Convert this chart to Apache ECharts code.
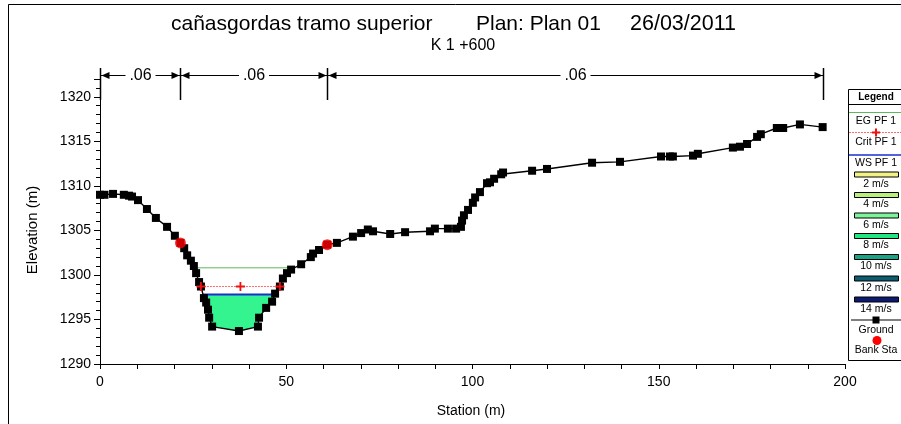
<!DOCTYPE html>
<html>
<head>
<meta charset="utf-8">
<script src="https://cdn.jsdelivr.net/npm/echarts@6/dist/echarts.min.js"></script>
<style>
  html, body { margin: 0; padding: 0; background: #fff; }
  #chart { width: 901px; height: 424px; }
</style>
</head>
<body>
<div id="chart"></div>
<script>
// Cross section K 1+600 — ground survey (station m, elevation m)
const groundStation = [0, 1.2, 3.5, 6.4, 7.8, 8.6, 10.2, 12.6, 15.0, 18.0, 20.1, 21.6, 22.6, 23.4, 24.4, 25.2, 25.8, 26.6, 27.1, 27.9, 28.5, 29.0, 29.3, 30.1, 37.3, 42.4, 42.7, 44.6, 46.2, 47.0, 48.3, 49.1, 50.2, 51.3, 54.0, 56.6, 57.2, 58.8, 61.0, 63.6, 67.9, 70.1, 71.9, 73.3, 77.9, 81.9, 88.6, 89.9, 93.4, 95.6, 96.9, 97.2, 97.7, 98.8, 100.1, 100.7, 102.0, 103.9, 104.7, 105.8, 107.7, 108.2, 116.0, 120.0, 132.1, 139.6, 150.6, 153.0, 153.8, 159.2, 160.5, 169.9, 171.8, 173.7, 176.4, 177.4, 181.7, 183.4, 187.9, 194.0];
const groundElev = [1309.0, 1309.0, 1309.1, 1309.0, 1308.9, 1308.8, 1308.4, 1307.4, 1306.4, 1305.4, 1304.4, 1303.6, 1303.0, 1302.2, 1301.6, 1301.0, 1300.2, 1299.2, 1298.7, 1297.4, 1296.9, 1296.1, 1295.2, 1294.2, 1293.7, 1294.2, 1295.2, 1296.3, 1297.0, 1297.9, 1298.7, 1299.6, 1300.2, 1300.6, 1301.2, 1302.0, 1302.4, 1302.8, 1303.4, 1303.6, 1304.3, 1304.7, 1305.1, 1304.9, 1304.6, 1304.8, 1304.9, 1305.2, 1305.2, 1305.2, 1305.4, 1306.1, 1306.7, 1307.3, 1308.1, 1308.7, 1309.3, 1310.3, 1310.4, 1310.8, 1311.3, 1311.5, 1311.7, 1311.9, 1312.6, 1312.7, 1313.3, 1313.3, 1313.3, 1313.4, 1313.6, 1314.3, 1314.4, 1314.7, 1315.5, 1315.8, 1316.5, 1316.5, 1316.9, 1316.6];

// Bank stations
const bankStation = [21.6, 61.0];
const bankElev = [1303.6, 1303.4];

// Profile PF 1 water levels
const egElev = 1300.8;    // energy grade
const critElev = 1298.7;  // critical depth
const wsElev = 1297.8;    // water surface

// Manning's n by sub-reach
const nBreaks = [0, 21.6, 61.0, 194.0];
const nValues = ['.06', '.06', '.06'];

// Axis ticks
const xTickStep = 50;
const yTickStep = 5;
const yMin = 1290, yMax = 1322;

// Legend entries
const velocityLabels = ['2 m/s', '4 m/s', '6 m/s', '8 m/s', '10 m/s', '12 m/s', '14 m/s'];
const velocityColors = ['#f3f385', '#b8f07a', '#7ff39a', '#1fe883', '#1ba284', '#0c5c70', '#0c1a72'];

const FONT = 'Liberation Sans, Arial, sans-serif';
const ground = groundStation.map((s, i) => [s, groundElev[i]]);

// Stations where the ground crosses a given level around the channel low point
function crossings(level) {
  let lo = 0;
  groundElev.forEach((e, i) => { if (e < groundElev[lo]) lo = i; });
  let left = null, right = null;
  for (let i = lo; i > 0; i--) {
    const [s1, e1] = ground[i - 1], [s2, e2] = ground[i];
    if (e1 >= level && e2 <= level) { left = s1 + (s2 - s1) * (e1 - level) / (e1 - e2); break; }
  }
  for (let i = lo; i < ground.length - 1; i++) {
    const [s1, e1] = ground[i], [s2, e2] = ground[i + 1];
    if (e1 <= level && e2 >= level) { right = s1 + (s2 - s1) * (level - e1) / (e2 - e1); break; }
  }
  return [left, right];
}

const egX = crossings(egElev);
const critX = crossings(critElev);
const wsX = crossings(wsElev);

// Wetted area polygon under the water surface
const wetPolygon = [[wsX[0], wsElev]]
  .concat(ground.filter(p => p[0] > wsX[0] && p[0] < wsX[1]))
  .concat([[wsX[1], wsElev]]);

const plusPath = 'path://M4,0H6V4H10V6H6V10H4V6H0V4H4Z';

// plus sign outline as polygon points around (cx, cy)
function plusPoints(cx, cy, r, w) {
  return [[cx - w, cy - r], [cx + w, cy - r], [cx + w, cy - w], [cx + r, cy - w], [cx + r, cy + w], [cx + w, cy + w],
    [cx + w, cy + r], [cx - w, cy + r], [cx - w, cy + w], [cx - r, cy + w], [cx - r, cy - w], [cx - w, cy - w]];
}

const chart = echarts.init(document.getElementById('chart'), null, { renderer: 'canvas' });

function legendGraphics() {
  const cx = 876;
  const g = [];
  g.push({ type: 'rect', shape: { x: 848.5, y: 89.5, width: 60, height: 271 }, style: { fill: '#fff', stroke: '#000', lineWidth: 1 }, z: 10 });
  g.push({ type: 'text', x: cx, y: 97, style: { text: 'Legend', font: 'bold 10px ' + FONT, fill: '#000', align: 'center', verticalAlign: 'middle' }, z: 11 });
  g.push({ type: 'line', shape: { x1: 848, y1: 104.5, x2: 901, y2: 104.5 }, style: { stroke: '#000', lineWidth: 1 }, z: 11 });
  const txt = (t, y) => g.push({ type: 'text', x: cx, y: y, style: { text: t, font: '10.5px ' + FONT, fill: '#000', align: 'center', verticalAlign: 'middle' }, z: 11 });
  g.push({ type: 'line', shape: { x1: 849, y1: 112.5, x2: 901, y2: 112.5 }, style: { stroke: '#5cb85c', lineWidth: 1 }, z: 11 });
  txt('EG PF 1', 121);
  g.push({ type: 'line', shape: { x1: 849, y1: 132.5, x2: 901, y2: 132.5 }, style: { stroke: '#ff6b6b', lineWidth: 1, lineDash: [2, 1] }, z: 11 });
  g.push({ type: 'polygon', shape: { points: plusPoints(cx, 132.5, 4, 1) }, style: { fill: '#ee1111' }, z: 12 });
  txt('Crit PF 1', 142);
  g.push({ type: 'line', shape: { x1: 849, y1: 155, x2: 901, y2: 155 }, style: { stroke: '#1a2fd0', lineWidth: 1.5 }, z: 11 });
  txt('WS PF 1', 163);
  const swY = [174.5, 195, 215.5, 236, 257, 278.5, 299.5];
  velocityLabels.forEach((lab, i) => {
    g.push({ type: 'rect', shape: { x: 854.5, y: swY[i] - 2.5, width: 44, height: 5 }, style: { fill: velocityColors[i], stroke: '#000', lineWidth: 1 }, z: 11 });
    txt(lab, swY[i] + 9.5);
  });
  g.push({ type: 'line', shape: { x1: 851, y1: 320, x2: 901, y2: 320 }, style: { stroke: '#000', lineWidth: 1 }, z: 11 });
  g.push({ type: 'rect', shape: { x: cx - 3.5, y: 316.5, width: 7, height: 7 }, style: { fill: '#000' }, z: 12 });
  txt('Ground', 330.5);
  g.push({ type: 'circle', shape: { cx: cx + 1, cy: 340.5, r: 4.5 }, style: { fill: '#ff0000' }, z: 11 });
  txt('Bank Sta', 350.5);
  return g;
}

const option = {
  animation: false,
  backgroundColor: '#fff',
  textStyle: { fontFamily: FONT },
  grid: { left: 100, right: 56, top: 79, bottom: 60, containLabel: false },
  xAxis: {
    type: 'value', min: 0, max: 200, interval: xTickStep,
    axisLine: { show: true, lineStyle: { color: '#000', width: 1 } },
    axisTick: { show: true, length: 5, lineStyle: { color: '#000' } },
    minorTick: { show: true, splitNumber: 5, length: 5, lineStyle: { color: '#000' } },
    splitLine: { show: false }, minorSplitLine: { show: false },
    axisLabel: { color: '#000', fontSize: 14, fontFamily: FONT, margin: 11 }
  },
  yAxis: {
    type: 'value', min: yMin, max: yMax, interval: yTickStep,
    axisLine: { show: true, lineStyle: { color: '#000', width: 1 } },
    axisTick: { show: true, length: 6, lineStyle: { color: '#000' } },
    minorTick: { show: true, splitNumber: 5, length: 4, lineStyle: { color: '#000' } },
    splitLine: { show: false }, minorSplitLine: { show: false },
    axisLabel: { color: '#000', fontSize: 14, fontFamily: FONT, margin: 9, showMaxLabel: false,
      formatter: v => (v % yTickStep === 0 ? String(v) : '') }
  },
  graphic: [
    { type: 'rect', shape: { x: 8.5, y: 4.5, width: 900, height: 440 }, style: { fill: 'none', stroke: '#000', lineWidth: 1 }, silent: true },
    { type: 'text', x: 171, y: 24, style: { text: 'cañasgordas tramo superior', font: '21px ' + FONT, fill: '#000', verticalAlign: 'middle' } },
    { type: 'text', x: 476, y: 24, style: { text: 'Plan: Plan 01', font: '21px ' + FONT, fill: '#000', verticalAlign: 'middle' } },
    { type: 'text', x: 630, y: 24, style: { text: '26/03/2011', font: '21.5px ' + FONT, fill: '#000', verticalAlign: 'middle' } },
    { type: 'text', x: 463, y: 46, style: { text: 'K 1 +600', font: '16px ' + FONT, fill: '#000', align: 'center', verticalAlign: 'middle' } },
    { type: 'text', x: 471, y: 411, style: { text: 'Station (m)', font: '14px ' + FONT, fill: '#000', align: 'center', verticalAlign: 'middle' } },
    { type: 'text', x: 33, y: 230, rotation: Math.PI / 2, style: { text: 'Elevation (m)', font: '15px ' + FONT, fill: '#000', align: 'center', verticalAlign: 'middle' } }
  ].concat(legendGraphics()),
  series: [
    {
      // wetted area
      type: 'custom', z: 1, clip: true, silent: true,
      data: [[0]],
      renderItem: (params, api) => ({
        type: 'polygon',
        shape: { points: wetPolygon.map(p => api.coord(p)) },
        style: { fill: '#33f48f' }
      })
    },
    {
      // Manning's n bar above the section
      type: 'custom', z: 2, clip: false, silent: true,
      data: [[0]],
      renderItem: (params, api) => {
        const yLine = 75.5, yTop = 68, yBot = 100;
        const xs = nBreaks.map(s => Math.round(api.coord([s, yMin])[0]) + 0.5);
        const kids = [];
        xs.forEach(x => kids.push({ type: 'line', shape: { x1: x, y1: yTop, x2: x, y2: yBot }, style: { stroke: '#000', lineWidth: 1.5 } }));
        nValues.forEach((t, i) => {
          const a = xs[i], b = xs[i + 1], mid = (a + b) / 2, half = 15;
          kids.push({ type: 'line', shape: { x1: a, y1: yLine, x2: mid - half, y2: yLine }, style: { stroke: '#000', lineWidth: 1 } });
          kids.push({ type: 'line', shape: { x1: mid + half, y1: yLine, x2: b, y2: yLine }, style: { stroke: '#000', lineWidth: 1 } });
          kids.push({ type: 'polygon', shape: { points: [[a + 1, yLine], [a + 9, yLine - 3.5], [a + 9, yLine + 3.5]] }, style: { fill: '#000' } });
          kids.push({ type: 'polygon', shape: { points: [[b - 1, yLine], [b - 9, yLine - 3.5], [b - 9, yLine + 3.5]] }, style: { fill: '#000' } });
          kids.push({ type: 'text', x: mid, y: yLine, style: { text: t, font: '16px ' + FONT, fill: '#000', align: 'center', verticalAlign: 'middle' } });
        });
        return { type: 'group', children: kids };
      }
    },
    {
      name: 'EG PF 1', type: 'line', z: 3, silent: true,
      data: [[egX[0], egElev], [egX[1], egElev]],
      symbol: 'none', lineStyle: { color: '#5cb85c', width: 1 }
    },
    {
      name: 'WS PF 1', type: 'line', z: 4, silent: true,
      data: [[wsX[0], wsElev], [wsX[1], wsElev]],
      symbol: 'none', lineStyle: { color: '#1a2fd0', width: 2 }
    },
    {
      name: 'Ground', type: 'line', z: 5, silent: true,
      data: ground,
      symbol: 'rect', symbolSize: 8, showAllSymbol: true,
      itemStyle: { color: '#000' },
      lineStyle: { color: '#000', width: 1.4 }
    },
    {
      name: 'Crit PF 1', type: 'line', z: 6, silent: true,
      data: [[critX[0], critElev], [(critX[0] + critX[1]) / 2, critElev], [critX[1], critElev]],
      symbol: plusPath, symbolSize: 9, showAllSymbol: true,
      itemStyle: { color: '#ee1111' },
      lineStyle: { color: '#ff6b6b', width: 1, type: [2, 1] }
    },
    {
      name: 'Bank Sta', type: 'scatter', z: 7, silent: true,
      data: bankStation.map((s, i) => [s, bankElev[i]]),
      symbol: 'circle', symbolSize: 11,
      itemStyle: { color: '#ff0000' }
    }
  ]
};

chart.setOption(option);
</script>
</body>
</html>
